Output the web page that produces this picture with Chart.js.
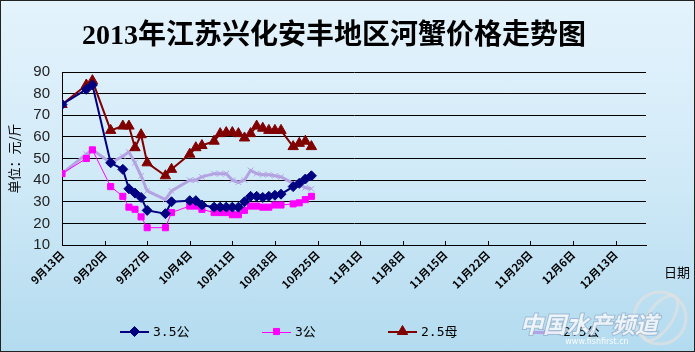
<!DOCTYPE html>
<html><head><meta charset="utf-8">
<script src="https://cdn.jsdelivr.net/npm/chart.js@4/dist/chart.umd.min.js"></script>
<style>
html,body{margin:0;padding:0;background:#fff;}
#wrap{position:relative;width:695px;height:352px;background:linear-gradient(to bottom,#e4f3fc 0%,#d3ebf8 45%,#b3dbef 100%);}
canvas{position:absolute;left:0;top:0;}
</style></head><body>
<div id="wrap"><canvas id="c" width="695" height="352"></canvas></div>
<script>
const chartTitle = '2013年江苏兴化安丰地区河蟹价格走势图';
const yTitle = '单位：元/斤';
const xTitle = '日期';
const tickDates = ['9/13','9/20','9/27','10/4','10/11','10/18','10/25','11/1','11/8','11/15','11/22','11/29','12/6','12/13'];
const tickLabels = ['9月13日','9月20日','9月27日','10月4日','10月11日','10月18日','10月25日','11月1日','11月8日','11月15日','11月22日','11月29日','12月6日','12月13日'];
const axisEnd = '12/18';
const dates = ['9/13','9/17','9/18','9/21','9/23','9/24','9/25','9/26','9/27','9/30','10/1','10/4','10/5','10/6','10/8','10/9','10/10','10/11','10/12','10/13','10/14','10/15','10/16','10/17','10/18','10/19','10/21','10/22','10/23','10/24'];
const seriesNames = ['3.5公','3公','2.5母','2.5公'];
const s35gong = [75,82,84,48,45,36,34,32,26,24.5,30,30.5,30.5,28.5,27.5,27.5,27.5,27.5,27.5,30,32.5,32.5,32,32.5,33,33.5,37,38.5,40.5,42];
const s3gong  = [43,50,54,37,32.5,27.5,26.5,23,18,18,25,28,28,26.5,25,25,25,24,24,26,28,28,27.5,27.5,28.5,28.5,29,29.5,31,32.5];
const s25mu   = [75,84,86,63,65,65,55,61,48,42,45,52,55,56,58,61.5,62,62,61.5,59.5,61.5,65,64,63,63,63,55.5,57,58,55.5];
const s25gong = [43,52,54,48,51,53,48,42,35,31,35,40,40,41.5,43,43,43,40,39,40,44.5,43,42.5,42.5,42,41.5,38.5,38,36.5,36];

const toDay = s => { const [m,d] = s.split('/').map(Number); return (Date.UTC(2013,m-1,d) - Date.UTC(2013,8,13)) / 864e5; };
const mk = arr => dates.map((d,i) => ({x: toDay(d), y: arr[i]}));

const styles = [
  {color:'#000080', width:2, pointStyle:'rectRot', radius:5},
  {color:'#ff00ff', width:1, pointStyle:'rect', radius:4.3},
  {color:'#800000', width:2, pointStyle:'triangle', radius:6},
  {color:'#b4a3e3', width:3, pointStyle:'crossRot', radius:4}
];
const seriesData = [s35gong, s3gong, s25mu, s25gong];

const datasets = seriesData.map((arr,i) => ({
  label: seriesNames[i],
  data: mk(arr),
  borderColor: styles[i].color,
  backgroundColor: styles[i].color,
  borderWidth: styles[i].width,
  pointStyle: styles[i].pointStyle,
  pointRadius: styles[i].radius,
  pointBorderWidth: 1,
  pointBorderColor: styles[i].color,
  pointBackgroundColor: styles[i].color,
  tension: 0
}));

const legendPos = [{x1:120,x2:149,tx:153},{x1:262,x2:291,tx:295},{x1:388,x2:417,tx:421},{x1:531,x2:560,tx:563}];

const decor = {
  id:'decor',
  afterDraw(chart){
    const ctx = chart.ctx;
    const xs = chart.scales.x, area = chart.chartArea;
    ctx.save();
    ctx.strokeStyle = '#000'; ctx.lineWidth = 1;
    tickDates.forEach(d => {
      const px = Math.round(xs.getPixelForValue(toDay(d))) + 0.5;
      ctx.beginPath(); ctx.moveTo(px, area.bottom); ctx.lineTo(px, area.bottom - 4); ctx.stroke();
    });
    ctx.fillStyle = '#000';
    ctx.textAlign = 'center';
    ctx.textBaseline = 'middle';
    ctx.font = 'bold 28px "Liberation Serif","Noto Sans CJK SC"';
    ctx.fillText(chartTitle, 334, 37);
    ctx.font = '13px "Noto Sans CJK SC"';
    ctx.fillText(xTitle, 677, 272);
    const ly = 331.5;
    legendPos.forEach((p,i) => {
      const st = styles[i];
      const lyy = Math.round(ly) + (st.width % 2 ? 0.5 : 0);
      ctx.strokeStyle = st.color; ctx.fillStyle = st.color; ctx.lineWidth = st.width;
      ctx.beginPath(); ctx.moveTo(p.x1, lyy); ctx.lineTo(p.x2, lyy); ctx.stroke();
      ctx.lineWidth = 1;
      Chart.helpers.drawPoint(ctx, {pointStyle: st.pointStyle, radius: st.radius, borderWidth: 1, rotation: 0}, (p.x1+p.x2)/2, ly);
      ctx.fillStyle = '#000';
      ctx.textAlign = 'left';
      ctx.font = '13px "DejaVu Sans Mono","Noto Sans CJK SC"';
      ctx.fillText(seriesNames[i], p.tx, ly + 1);
    });
    ctx.strokeStyle = 'rgba(225,225,225,0.7)'; ctx.lineWidth = 3;
    ctx.beginPath(); ctx.arc(660, 318, 26, 0, Math.PI*2); ctx.stroke();
    ctx.beginPath(); ctx.ellipse(660, 318, 12, 26, 0.6, 0, Math.PI*2); ctx.stroke();
    ctx.textAlign = 'center';
    ctx.font = 'italic bold 23px "Noto Sans CJK SC"';
    ctx.lineWidth = 2; ctx.strokeStyle = 'rgba(140,165,195,0.6)';
    ctx.strokeText('中国水产频道', 589, 324);
    ctx.fillStyle = 'rgba(255,255,255,0.8)';
    ctx.fillText('中国水产频道', 589, 324);
    ctx.font = '8px "DejaVu Sans"';
    ctx.fillStyle = 'rgba(255,255,255,0.9)';
    ctx.fillText('www.fishfirst.cn', 597, 342);
    ctx.strokeStyle = '#222'; ctx.lineWidth = 1;
    ctx.strokeRect(0.5, 0.5, 694, 351);
    ctx.restore();
  }
};

new Chart(document.getElementById('c'), {
  type: 'line',
  data: {datasets},
  options: {
    responsive: false,
    animation: false,
    layout: {padding: {top: 72, right: 49, bottom: 0, left: 0}},
    plugins: {legend: {display: false}, title: {display: false}, tooltip: {enabled: false}},
    scales: {
      x: {
        type: 'linear',
        min: 0,
        max: toDay(axisEnd),
        afterBuildTicks: s => { s.ticks = tickDates.map(d => ({value: toDay(d)})); },
        afterFit: s => { s.height = 107; },
        ticks: {
          autoSkip: false, minRotation: 45, maxRotation: 45, padding: 3,
          color: '#000', font: {size: 11, weight: 'bold', family: '"Noto Sans CJK SC"'},
          callback: (v, i) => tickLabels[i]
        },
        grid: {display: false, drawTicks: false},
        border: {display: true, color: '#000', width: 1}
      },
      y: {
        min: 10, max: 90,
        afterFit: s => { s.width = 62; },
        ticks: {stepSize: 10, padding: 12, color: '#222', font: {size: 15, family: '"Liberation Sans"'}},
        grid: {color: '#000', lineWidth: 1, drawTicks: false},
        border: {display: true, color: '#000', width: 1},
        title: {display: true, text: yTitle, color: '#000', font: {size: 13, family: '"Noto Sans CJK SC"'}, padding: {top: 6, bottom: 0}}
      }
    }
  },
  plugins: [decor]
});
</script>
</body></html>
